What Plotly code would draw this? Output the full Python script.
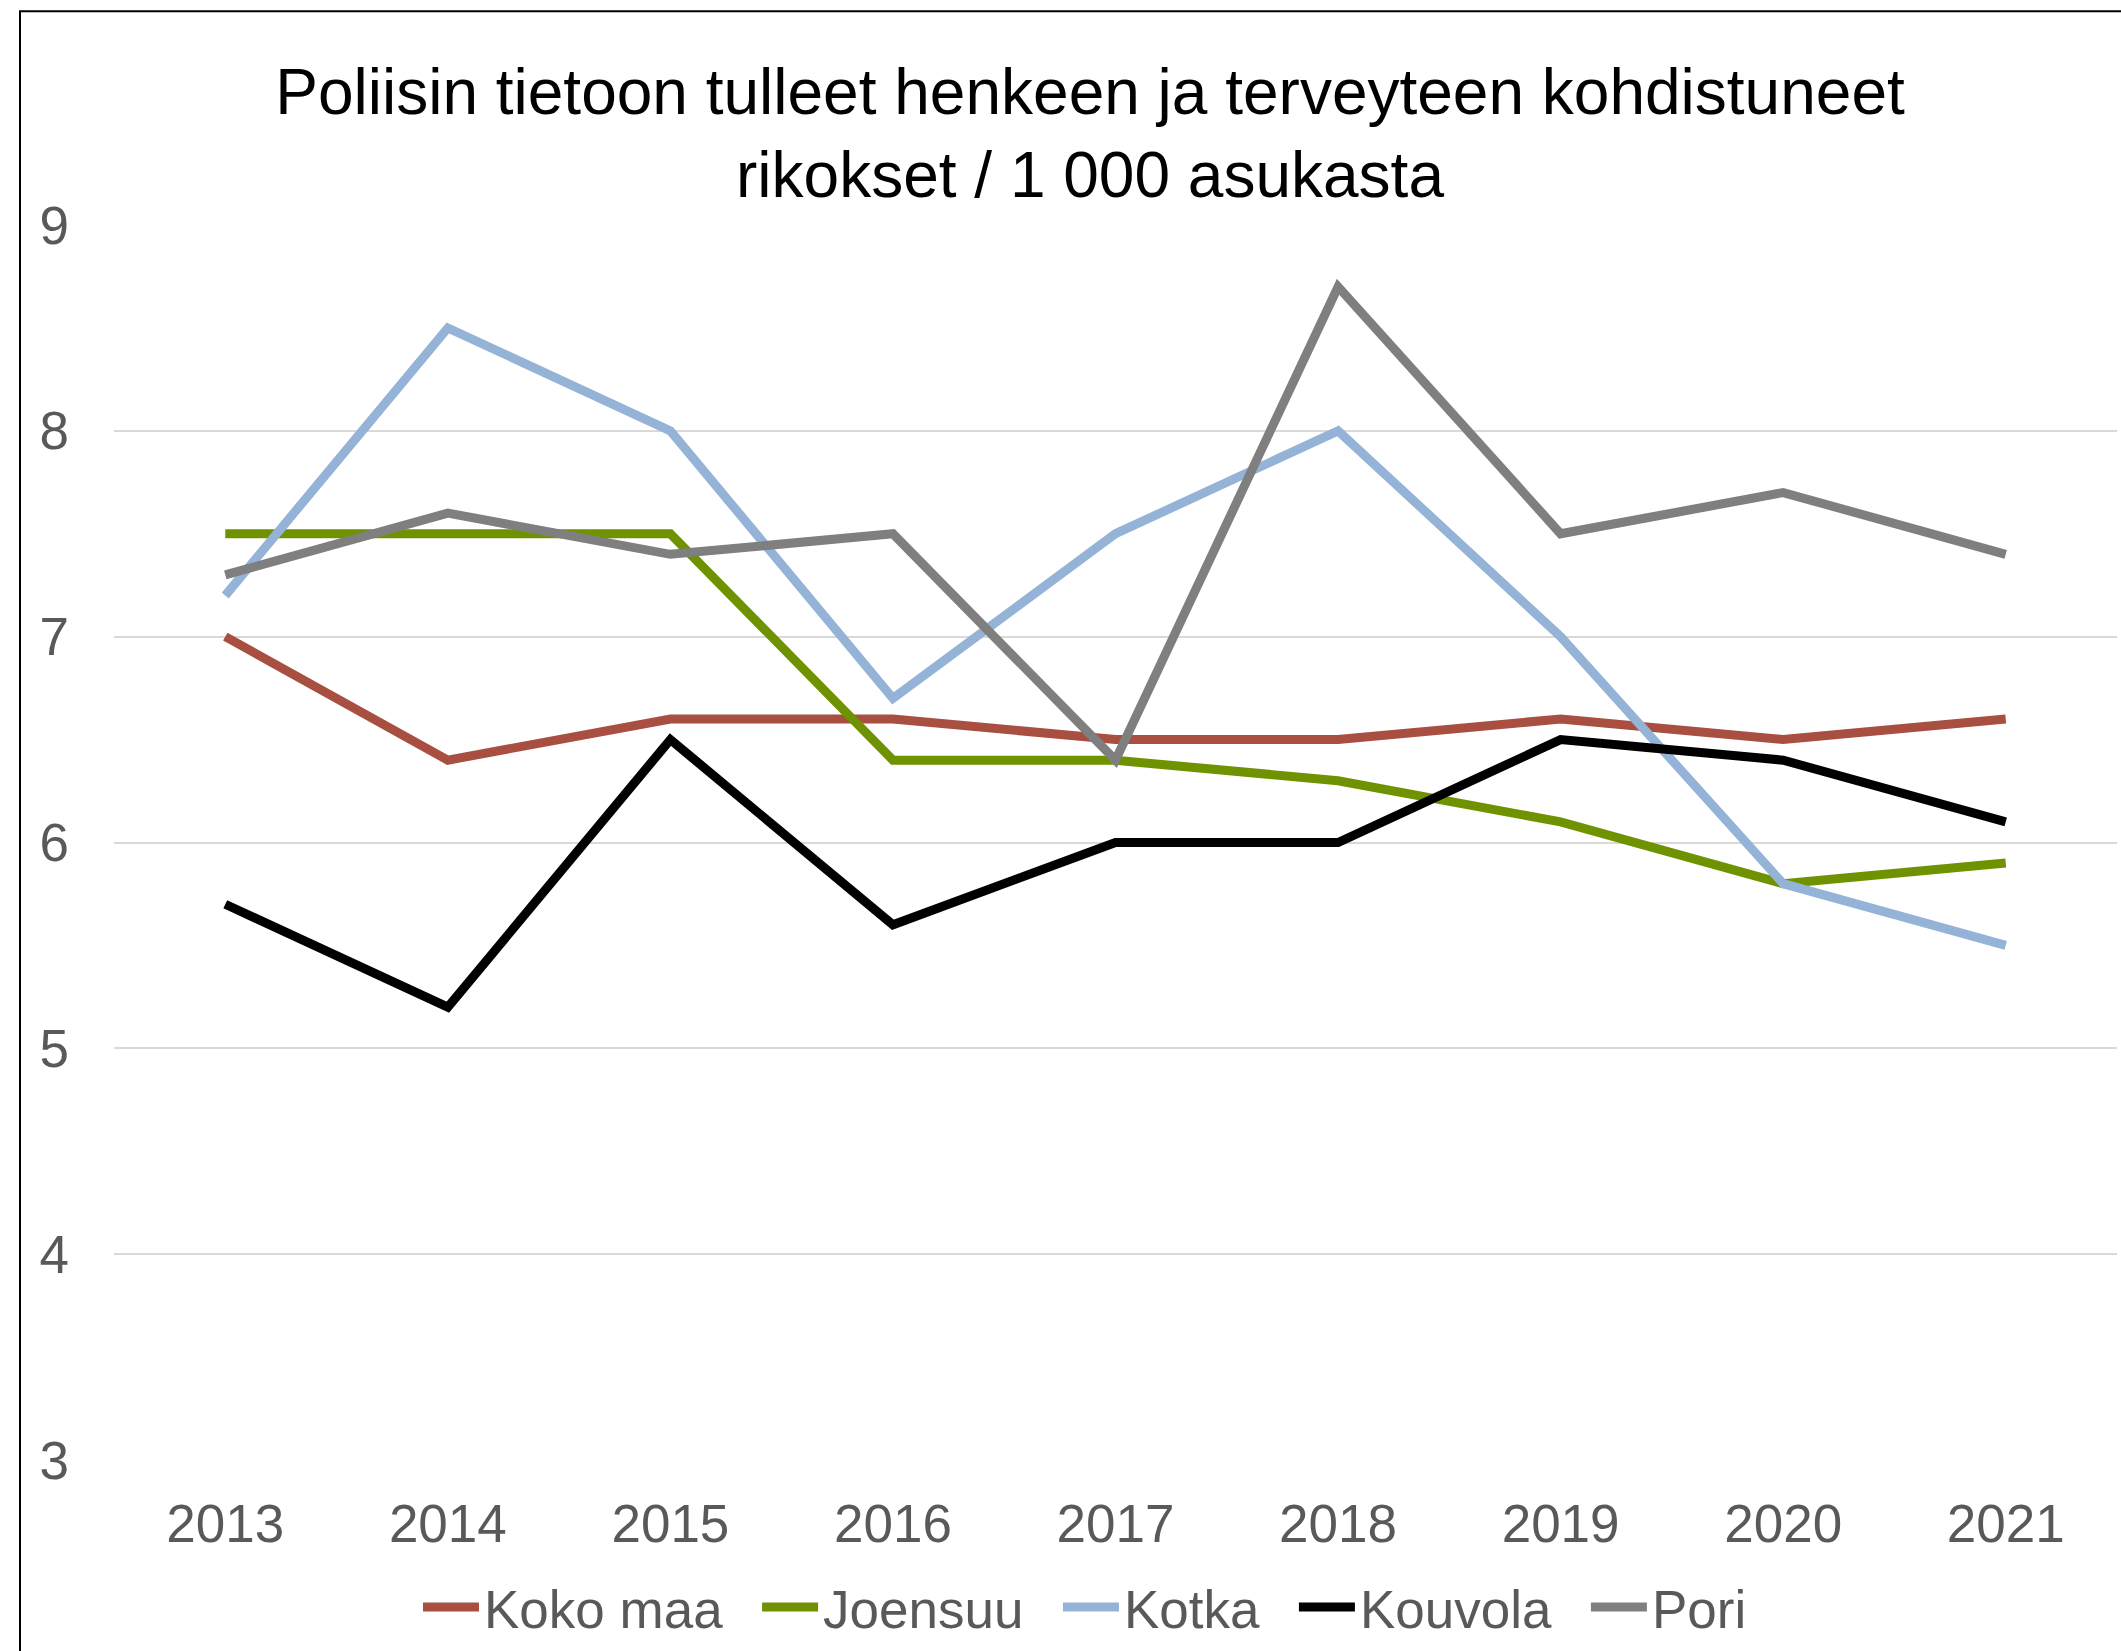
import plotly.graph_objects as go

# Years on the category axis
years = ["2013", "2014", "2015", "2016", "2017", "2018", "2019", "2020", "2021"]

# Offences against life and health known to police, per 1 000 inhabitants
koko_maa = [7.0, 6.4, 6.6, 6.6, 6.5, 6.5, 6.6, 6.5, 6.6]
joensuu = [7.5, 7.5, 7.5, 6.4, 6.4, 6.3, 6.1, 5.8, 5.9]
kotka = [7.2, 8.5, 8.0, 6.7, 7.5, 8.0, 7.0, 5.8, 5.5]
kouvola = [5.7, 5.2, 6.5, 5.6, 6.0, 6.0, 6.5, 6.4, 6.1]
pori = [7.3, 7.6, 7.4, 7.5, 6.4, 8.7, 7.5, 7.7, 7.4]

series_names = ["Koko maa", "Joensuu", "Kotka", "Kouvola", "Pori"]
series_values = [koko_maa, joensuu, kotka, kouvola, pori]
series_colors = ["#A84F41", "#6F9200", "#95B3D7", "#000000", "#7F7F7F"]

y_ticks = [3, 4, 5, 6, 7, 8, 9]

FONT = "Liberation Sans, Arial, sans-serif"
W, H = 2121, 1651
L, R, T, B = 114, 4, 225, 190

# invisible padding after each legend label except the last
GAP = "\u00a0\u00a0"

fig = go.Figure()
for i, (name, vals, col) in enumerate(zip(series_names, series_values, series_colors)):
    label = name + (GAP if i < len(series_names) - 1 else "")
    fig.add_trace(go.Scatter(
        x=years, y=vals, name=label, mode="lines",
        line=dict(color=col, width=9),
    ))

# paper coordinates of the outer chart frame
pw = W - L - R
ph = H - T - B
def px_x(x):
    return (x - L) / pw
def px_y(y):
    return (H - B - y) / ph

fig.add_shape(
    type="rect", xref="paper", yref="paper",
    x0=px_x(20), x1=px_x(2140), y0=px_y(1680), y1=px_y(11),
    line=dict(color="#000000", width=2), fillcolor="rgba(0,0,0,0)",
)

fig.update_layout(
    width=W, height=H,
    margin=dict(l=L, r=R, t=T, b=B),
    paper_bgcolor="white", plot_bgcolor="white",
    font=dict(family=FONT, size=53, color="#595959"),
    title=dict(
        text="Poliisin tietoon tulleet henkeen ja terveyteen kohdistuneet<br>rikokset / 1 000 asukasta",
        font=dict(family=FONT, size=64, color="#000000"),
        x=1090 / W, xanchor="center", xref="container",
        y=1 - 114 / H, yanchor="middle", yref="container",
    ),
    xaxis=dict(
        type="category", range=[-0.5, 8.5],
        showgrid=False, zeroline=False, showline=False,
        ticks="", ticklabelstandoff=28,
        tickfont=dict(size=53, color="#595959"),
    ),
    yaxis=dict(
        range=[3, 9], tickvals=y_ticks,
        showgrid=True, gridcolor="#D9D9D9", gridwidth=2,
        zeroline=False, showline=False,
        ticks="", ticklabelstandoff=44,
        tickfont=dict(size=53, color="#595959"),
    ),
    legend=dict(
        orientation="h", xref="paper", yref="paper",
        x=px_x(1085), xanchor="center",
        y=px_y(1607), yanchor="middle",
        font=dict(size=53, color="#595959"),
        itemwidth=56,
        bgcolor="rgba(0,0,0,0)",
    ),
    showlegend=True,
)

fig.write_html("out.html")
